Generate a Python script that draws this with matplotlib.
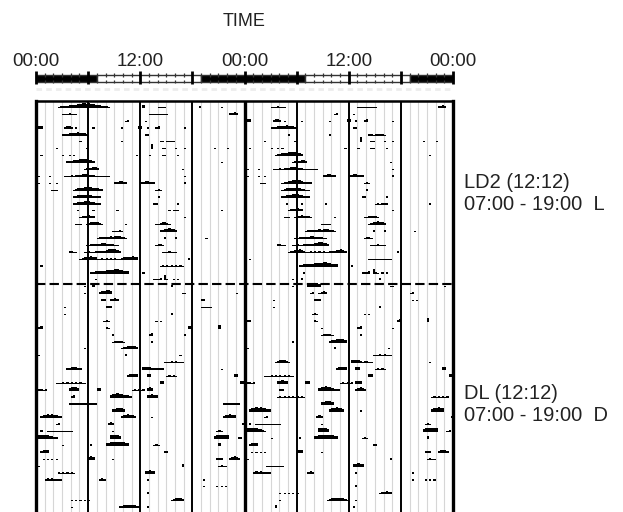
import numpy as np
import matplotlib
matplotlib.use("Agg")
import matplotlib.pyplot as plt
from matplotlib.patches import Rectangle

plt.rcParams['font.family'] = ['Liberation Sans', 'DejaVu Sans']

# Light schedule shown in the bar above the actogram (LD2: light 07:00-19:00)
lights_on = 7
lights_off = 19

hour_labels = ["00:00", "12:00", "00:00", "12:00", "00:00"]
hour_label_pos = [0, 12, 24, 36, 48]

phase_labels = ["LD2 (12:12)\n07:00 - 19:00  L", "DL (12:12)\n07:00 - 19:00  D"]
switch_row = 26.5          # dashed line between LD2 and DL
n_rows = 61                # rows shown (double plotted: row r = day r | day r+1)

# Activity counts per 15-min bin: (day, first bin hour, bin levels 0-9)
ld2_bouts = [
    (0, 2.5, "233445566778878776554332"), (0, 12.25, "6"), (0, 14.0, "1212"),
    (0, 18.75, "3"), (0, 21.25, "2"),
    (1, 3.0, "1213121"), (1, 13.0, "121212121"), (1, 22.25, "3454"),
    (2, 10.25, "23"), (2, 12.5, "2"),
    (3, 0.0, "454"), (3, 3.25, "3453"), (3, 4.5, "2"), (3, 6.5, "2"), (3, 9.75, "2"),
    (3, 11.75, "45"), (3, 12.75, "3"), (3, 13.75, "34"), (3, 17.0, "2"),
    (4, 3.0, "233445565443"), (4, 12.5, "23"),
    (5, 5.0, "2"), (5, 9.75, "2"), (5, 14.25, "23123231"),
    (6, 2.25, "2"), (6, 5.75, "2"), (6, 13.25, "9"), (6, 14.5, "23"), (6, 16.0, "3"),
    (6, 17.0, "2"), (6, 20.5, "2"), (6, 22.0, "2"),
    (7, 0.5, "2"), (7, 3.0, "2"), (7, 3.75, "202"), (7, 11.5, "2"), (7, 13.0, "3"),
    (7, 14.5, "23"), (7, 16.25, "3"),
    (8, 3.5, "3445667787654"), (8, 21.25, "2"),
    (9, 5.5, "2334554"), (9, 16.75, "2"),
    (10, 0.25, "2"), (10, 1.5, "2"), (10, 3.25, "122323445654432212121"), (10, 17.0, "2"),
    (11, 0.25, "1"), (11, 1.5, "2"), (11, 2.25, "2"), (11, 9.0, "345543"),
    (11, 12.0, "3455443"), (11, 17.0, "3"),
    (12, 1.75, "121"), (12, 4.25, "23455676654433"), (12, 13.75, "232"),
    (13, 4.25, "2345555543322"), (13, 14.0, "3"),
    (14, 4.25, "2345566654332"), (14, 13.5, "23"), (14, 16.25, "2"),
    (15, 4.75, "2"), (15, 6.5, "2"), (15, 9.25, "2"), (15, 15.0, "121232"), (15, 21.25, "2"),
    (16, 5.0, "3455654"), (16, 17.0, "3"),
    (17, 4.5, "2330"), (17, 5.75, "34565543"), (17, 10.25, "3"), (17, 13.75, "2345543"),
    (18, 0.0, "2"), (18, 8.5, "122232"), (18, 14.25, "34567654"),
    (19, 7.0, "23343454565432"), (19, 14.75, "3"), (19, 16.0, "3"), (19, 19.5, "2"),
    (20, 5.75, "123344455443322"), (20, 13.75, "2332"),
    (21, 3.75, "3422"), (21, 5.5, "2232233434"), (21, 8.0, "5677654"), (21, 14.5, "1213121"),
    (22, 5.0, "2345"), (22, 6.0, "5654"), (22, 7.0, "2232323232234"), (22, 10.25, "455654"),
    (22, 17.5, "3"),
    (23, 0.5, "2"), (23, 14.25, "12121212121"),
    (24, 6.25, "234445566778876554"), (24, 12.25, "2"),
    (25, 6.75, "2"), (25, 13.5, "2334"), (25, 14.75, "9"), (25, 15.0, "21"),
    (25, 15.75, "3"), (25, 16.25, "2"),
    (26, 5.5, "3"), (26, 6.5, "5"), (26, 15.5, "4"),
]

dl_bouts = [
    (27, 5.5, "3"), (27, 7.25, "456776"), (27, 16.75, "23"), (27, 23.0, "2"),
    (28, 7.5, "34"), (28, 8.5, "3454"), (28, 19.0, "34"),
    (29, 3.25, "2"), (29, 8.0, "343"), (29, 19.0, "12121"),
    (30, 3.25, "2"), (30, 15.5, "3"),
    (31, 7.75, "232"), (31, 13.75, "202"),
    (32, 0.25, "34"), (32, 8.0, "32"), (32, 17.5, "45"), (32, 21.0, "6"),
    (33, 8.75, "2"), (33, 13.0, "34"), (33, 17.0, "2"),
    (34, 8.75, "122321"), (34, 13.25, "2"),
    (35, 5.5, "3"), (35, 9.75, "34567665"),
    (36, 0.25, "3"), (36, 10.25, "4"), (36, 16.5, "2"),
    (37, 14.75, "233434322"),
    (38, 3.5, "3456543"), (38, 12.25, "5665434433"), (38, 21.25, "2"),
    (39, 10.5, "45665"), (39, 12.75, "56"), (39, 15.0, "23232"), (39, 22.75, "56"),
    (40, 2.25, "12232323232321"), (40, 14.25, "56"), (40, 23.5, "56"),
    (41, 0.0, "34323"), (41, 3.75, "56765"), (41, 7.0, "55"), (41, 11.0, "232323"),
    (41, 12.75, "565"),
    (42, 4.0, "34"), (42, 8.5, "56787654"), (42, 10.5, "43"), (42, 12.75, "45654"),
    (43, 3.75, "2323232323232"), (43, 21.5, "23232323"),
    (44, 8.75, "456765"),
    (45, 0.5, "5678787654"), (45, 9.75, "5678765"), (45, 13.25, "3"), (45, 21.5, "567876"),
    (46, 2.25, "34"), (46, 8.25, "565"), (46, 23.75, "5"),
    (47, 0.5, "4"), (47, 1.25, "232323232323"), (47, 8.75, "2"), (47, 20.75, "343"),
    (48, 0.0, "6787876543"), (48, 8.5, "78876"), (48, 20.5, "6788787"), (48, 23.25, "34"),
    (49, 3.0, "2"), (49, 6.25, "4"), (49, 8.0, "56787888765"), (49, 13.5, "232"), (49, 21.0, "5"),
    (50, 0.5, "4565"), (50, 14.75, "34"),
    (51, 0.75, "2020202"), (51, 6.0, "565"), (51, 8.75, "2"), (51, 20.75, "343"),
    (51, 22.25, "45654"),
    (52, 0.25, "2"), (52, 16.75, "4"), (52, 21.0, "2322"),
    (53, 2.5, "21212121"), (53, 12.5, "45654"),
    (54, 1.0, "34343232"), (54, 7.25, "343"), (54, 12.75, "3"), (54, 19.25, "3"),
    (55, 19.25, "2"), (55, 20.75, "202020"),
    (56, 12.75, "4"),
    (57, 4.0, "202020202"), (57, 15.5, "345654"),
    (58, 4.0, "2"), (58, 9.5, "3455666543"), (58, 12.75, "3"),
    (59, 3.5, "5"), (59, 12.5, "3"),
    (60, 9.0, "344"),
]

bin_h = 0.25
n_bins = int(24 / bin_h)
n_days = n_rows + 1
activity = np.zeros((n_days, n_bins))
for day, start, levels in ld2_bouts + dl_bouts:
    i0 = int(round(start / bin_h))
    for k, ch in enumerate(levels):
        if i0 + k < n_bins:
            activity[day, i0 + k] = max(activity[day, i0 + k], int(ch) / 10)

W, H, DPI = 623, 512, 100
fig = plt.figure(figsize=(W / DPI, H / DPI), dpi=DPI)

x0_px, x1_px = 36, 453
top_px = 101
row_px = 6.9
ax_h_px = n_rows * row_px
ax = fig.add_axes([x0_px / W, (H - top_px - ax_h_px) / H, (x1_px - x0_px) / W, ax_h_px / H])
ax.set_xlim(0, 48)
ax.set_ylim(n_rows, 0)
ax.set_xticks([])
ax.set_yticks([])
ax.spines["bottom"].set_visible(False)
ax.spines["left"].set_linewidth(2.4)
ax.spines["right"].set_linewidth(2.4)
ax.spines["top"].set_linewidth(1.8)

# hourly grid and 6-hour dividers
for h in range(1, 48):
    if h % 6:
        ax.axvline(h, color="#d6d6d6", lw=0.8, zorder=1)
for h in range(6, 48, 6):
    ax.axvline(h, color="black", lw=2.4 if h == 24 else 1.4, zorder=3)

# double-plotted activity histograms
centers = (np.arange(n_bins) + 0.5) * bin_h
for r in range(n_rows):
    for offset, day in ((0, r), (24, r + 1)):
        vals = activity[day]
        nz = vals > 0
        if nz.any():
            ax.bar(centers[nz] + offset, -vals[nz] * 0.8, bottom=r + 1, width=bin_h,
                   color="black", linewidth=0, zorder=2)

ax.axhline(switch_row, color="black", lw=1.5, ls=(0, (4.5, 2)), zorder=4)

# faint row between the light bar and the actogram
ax.plot([0, 48], [-1.75, -1.75], color="#ececec", lw=2, ls=(0, (2, 1.5)), clip_on=False)

# light/dark bar
bar_top_px, bar_bot_px = 75, 81.5
axb = fig.add_axes([x0_px / W, (H - bar_bot_px) / H, (x1_px - x0_px) / W, (bar_bot_px - bar_top_px) / H])
axb.set_xlim(0, 48)
axb.set_ylim(0, 1)
axb.axis("off")
edges = [0]
for d in (0, 24):
    edges += [d + lights_on, d + lights_off]
edges.append(48)
for i in range(len(edges) - 1):
    a, b = edges[i], edges[i + 1]
    dark = (i % 2 == 0)
    axb.add_patch(Rectangle((a, 0), b - a, 1, facecolor="black" if dark else "white",
                            edgecolor="#333333", lw=1.0, clip_on=False))
minor = [h for h in range(49) if h % 6]
axb.vlines(minor, 0.7, 1.3, color="#333333", lw=0.9, clip_on=False)
axb.vlines(minor, -0.3, 0.3, color="#333333", lw=0.9, clip_on=False)
axb.vlines(list(range(0, 49, 6)), -0.45, 1.55, color="black", lw=2.0, clip_on=False)

for pos, lab in zip(hour_label_pos, hour_labels):
    axb.text(pos, 1.75, lab, ha="center", va="bottom", fontsize=13.5, color="#222222")

fig.text((x0_px + x1_px) / 2 / W, 1 - 21 / H, "TIME", ha="center", va="center",
         fontsize=13, color="#222222")
fig.text(464 / W, 1 - 194 / H, phase_labels[0], ha="left", va="center",
         fontsize=14.5, color="#222222", linespacing=1.2)
fig.text(464 / W, 1 - 404.5 / H, phase_labels[1], ha="left", va="center",
         fontsize=14.5, color="#222222", linespacing=1.2)

fig.savefig("out.png", dpi=DPI)
